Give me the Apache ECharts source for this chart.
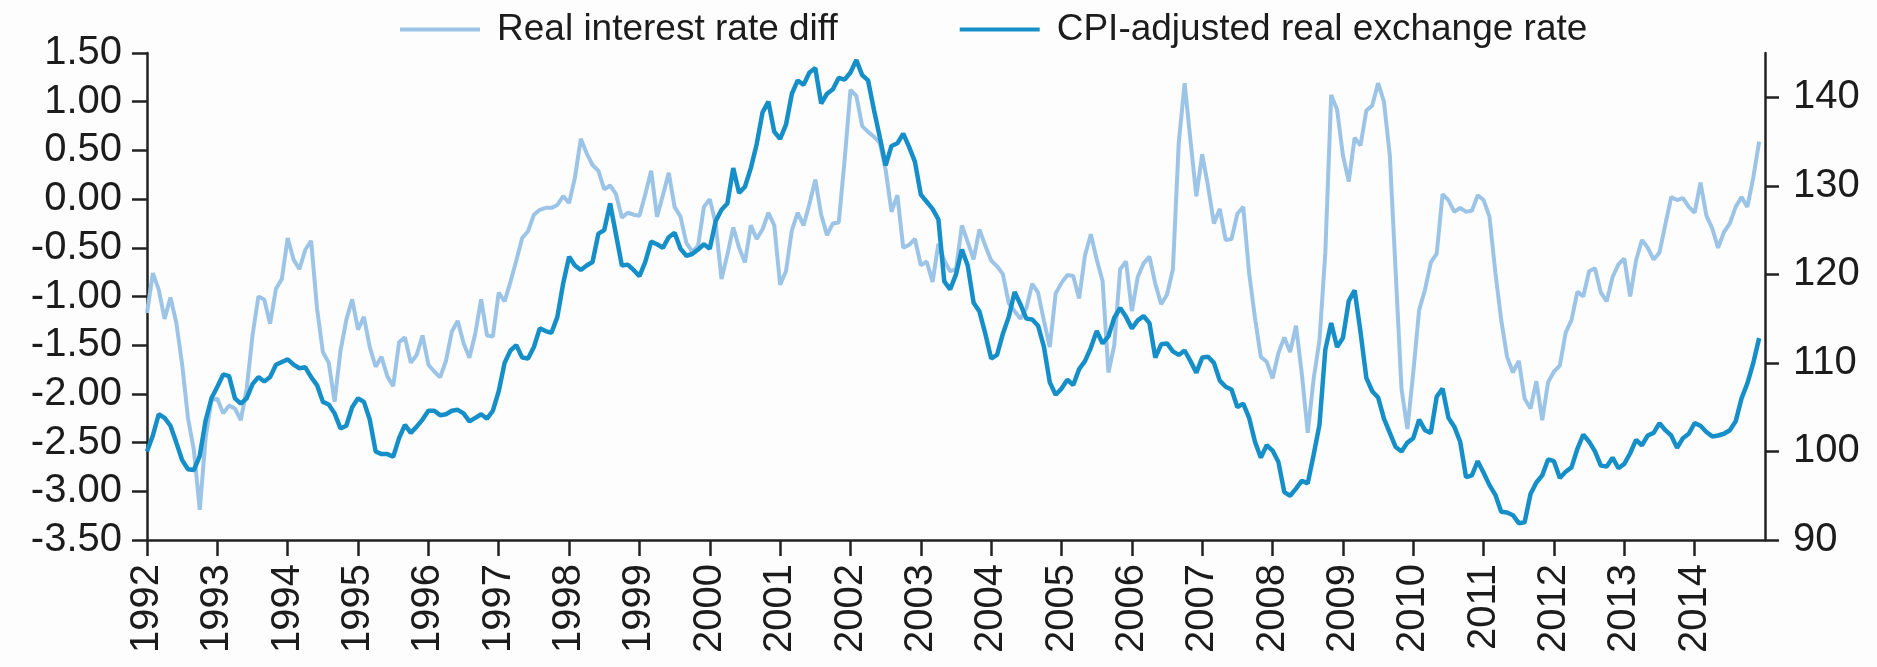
<!DOCTYPE html>
<html>
<head>
<meta charset="utf-8">
<script src="https://cdn.jsdelivr.net/npm/echarts@6/dist/echarts.min.js"></script>
<style>
    html, body { margin: 0; padding: 0; background: #fdfdfd; }
    #chart { width: 1877px; height: 667px; }
</style>
</head>
<body>
<div id="chart"></div>
<script>
// monthly observations, Jan 1992 - Dec 2014
const startYear = 1992

const rateDiff = [
    -1.17, -0.76, -0.93, -1.23, -1.01, -1.27, -1.70, -2.25, -2.58, -3.19, -2.45, -2.06, // 1992
    -2.05, -2.20, -2.12, -2.15, -2.27, -1.95, -1.40, -1.00, -1.03, -1.28, -0.92, -0.82, // 1993
    -0.40, -0.62, -0.72, -0.52, -0.43, -1.12, -1.57, -1.68, -2.08, -1.56, -1.24, -1.03, // 1994
    -1.34, -1.21, -1.52, -1.72, -1.62, -1.82, -1.92, -1.47, -1.42, -1.68, -1.60, -1.40, // 1995
    -1.70, -1.77, -1.83, -1.66, -1.36, -1.25, -1.48, -1.63, -1.38, -1.03, -1.40, -1.41, // 1996
    -0.96, -1.05, -0.85, -0.63, -0.40, -0.33, -0.16, -0.11, -0.09, -0.09, -0.06, 0.03,   // 1997
    -0.04, 0.22, 0.62, 0.47, 0.35, 0.29, 0.10, 0.14, 0.05, -0.19, -0.14, -0.16,          // 1998
    -0.17, 0.05, 0.29, -0.18, 0.04, 0.27, -0.08, -0.18, -0.45, -0.54, -0.48, -0.08,      // 1999
    0.00, -0.25, -0.82, -0.57, -0.29, -0.50, -0.65, -0.27, -0.41, -0.31, -0.14, -0.27,   // 2000
    -0.88, -0.74, -0.32, -0.14, -0.27, -0.05, 0.20, -0.16, -0.37, -0.25, -0.24, 0.40,    // 2001
    1.12, 1.06, 0.75, 0.69, 0.64, 0.58, 0.30, -0.13, 0.04, -0.50, -0.47, -0.41,          // 2002
    -0.68, -0.64, -0.85, -0.46, -0.63, -0.74, -0.72, -0.27, -0.44, -0.62, -0.31, -0.48,  // 2003
    -0.63, -0.69, -0.77, -1.07, -1.15, -1.23, -1.12, -0.87, -0.96, -1.25, -1.52, -0.97,  // 2004
    -0.86, -0.78, -0.79, -1.02, -0.58, -0.36, -0.62, -0.84, -1.78, -1.50, -0.72, -0.64,  // 2005
    -1.15, -0.80, -0.66, -0.59, -0.87, -1.08, -0.98, -0.72, 0.58, 1.19, 0.60, 0.03,      // 2006
    0.46, 0.13, -0.25, -0.10, -0.42, -0.41, -0.15, -0.08, -0.76, -1.22, -1.62, -1.67,    // 2007
    -1.84, -1.58, -1.42, -1.57, -1.30, -1.80, -2.40, -1.85, -1.45, -0.55, 1.07, 0.92,    // 2008
    0.45, 0.18, 0.63, 0.55, 0.91, 0.96, 1.19, 1.00, 0.45, -0.75, -1.95, -2.36,           // 2009
    -1.78, -1.14, -0.93, -0.65, -0.56, 0.05, -0.01, -0.13, -0.09, -0.13, -0.12, 0.04,    // 2010
    -0.01, -0.18, -0.75, -1.24, -1.62, -1.78, -1.66, -2.05, -2.15, -1.87, -2.27, -1.88,  // 2011
    -1.77, -1.71, -1.37, -1.24, -0.95, -1.00, -0.74, -0.71, -0.96, -1.05, -0.80, -0.67,  // 2012
    -0.61, -1.00, -0.63, -0.42, -0.50, -0.62, -0.55, -0.26, 0.02, -0.01, 0.01, -0.08,    // 2013
    -0.14, 0.17, -0.17, -0.30, -0.50, -0.34, -0.25, -0.08, 0.02, -0.08, 0.22, 0.59       // 2014
]

const realExchange = [
    100.0, 101.8, 104.2, 103.8, 102.9, 101.0, 99.0, 98.0, 97.9, 99.5, 103.5, 106.0,      // 1992
    107.3, 108.7, 108.5, 106.0, 105.4, 106.0, 107.6, 108.4, 107.9, 108.4, 109.8, 110.1,  // 1993
    110.4, 109.8, 109.4, 109.5, 108.4, 107.5, 105.6, 105.3, 104.3, 102.6, 102.9, 105.0,  // 1994
    106.0, 105.6, 103.6, 100.0, 99.7, 99.7, 99.4, 101.5, 103.0, 102.1, 102.8, 103.6,     // 1995
    104.6, 104.6, 104.1, 104.2, 104.6, 104.7, 104.3, 103.4, 103.8, 104.2, 103.7, 104.6,  // 1996
    106.8, 110.0, 111.4, 112.0, 110.6, 110.5, 111.8, 113.9, 113.6, 113.4, 115.2, 119.0,  // 1997
    122.0, 121.0, 120.5, 121.0, 121.4, 124.6, 125.0, 128.0, 124.5, 121.0, 121.1, 120.5,  // 1998
    119.8, 121.4, 123.7, 123.4, 123.0, 124.2, 124.7, 122.9, 122.1, 122.3, 122.8, 123.4,  // 1999
    122.9, 126.0, 127.3, 128.0, 132.0, 129.2, 129.9, 132.0, 134.7, 138.3, 139.5, 136.1,  // 2000
    135.3, 136.9, 140.4, 141.9, 141.4, 142.8, 143.3, 139.3, 140.4, 140.9, 142.2, 142.0,  // 2001
    142.8, 144.2, 142.5, 141.9, 138.6, 135.5, 132.3, 134.5, 134.8, 135.9, 134.4, 132.7,  // 2002
    129.0, 128.2, 127.4, 126.2, 119.2, 118.3, 120.0, 122.8, 121.0, 116.8, 115.8, 113.3,  // 2003
    110.5, 110.9, 113.3, 115.2, 118.0, 116.6, 115.0, 114.9, 114.2, 111.8, 107.8, 106.4,  // 2004
    107.1, 108.1, 107.5, 109.3, 110.2, 111.7, 113.6, 112.2, 113.0, 115.1, 116.2, 115.2,  // 2005
    113.9, 114.8, 115.3, 114.5, 110.6, 112.1, 112.2, 111.3, 110.9, 111.4, 110.2, 108.9,  // 2006
    110.6, 110.7, 110.0, 108.0, 107.3, 107.0, 105.0, 105.4, 103.8, 101.1, 99.3, 100.7,   // 2007
    100.1, 98.8, 95.4, 95.0, 95.8, 96.7, 96.4, 99.6, 103.0, 111.5, 114.5, 111.8,         // 2008
    112.8, 117.0, 118.2, 113.5, 108.3, 106.8, 106.1, 103.7, 102.1, 100.5, 100.0, 101.0,  // 2009
    101.5, 103.6, 102.4, 102.1, 106.2, 107.1, 103.8, 102.8, 101.1, 97.1, 97.3, 98.9,     // 2010
    97.6, 96.2, 95.1, 93.2, 93.1, 92.8, 91.9, 92.0, 95.2, 96.5, 97.3, 99.1,              // 2011
    98.9, 97.0, 97.7, 98.2, 100.3, 101.9, 101.1, 100.0, 98.4, 98.3, 99.3, 98.1,          // 2012
    98.6, 99.8, 101.3, 100.7, 101.8, 102.1, 103.2, 102.4, 101.8, 100.4, 101.5, 102.0,    // 2013
    103.2, 102.9, 102.2, 101.7, 101.8, 102.0, 102.4, 103.4, 106.0, 107.7, 110.0, 112.8   // 2014
]

const yearTicks = []
for (let y = 1992; y <= 2014; y++) yearTicks.push(y)
const rateTicks = [-3.5, -3, -2.5, -2, -1.5, -1, -0.5, 0, 0.5, 1, 1.5]
const rerTicks = [90, 100, 110, 120, 130, 140]

const toPoints = (values) => values.map((v, i) => [startYear + i / 12, v])

const axisColor = '#222'
const labelColor = '#1c1c1c'
const font = '"Liberation Sans", Arial, sans-serif'

const chart = echarts.init(document.getElementById('chart'), null, { renderer: 'canvas' })
chart.setOption({
    animation: false,
    backgroundColor: '#fdfdfd',
    textStyle: { fontFamily: font },
    legend: {
        top: 6,
        left: 395,
        icon: 'rect',
        itemWidth: 80,
        itemHeight: 4,
        itemGap: 122,
        textStyle: {
            fontFamily: font,
            fontSize: 37,
            color: labelColor,
            padding: [0, 0, 0, 12],
        },
        data: ['Real interest rate diff', 'CPI-adjusted real exchange rate'],
    },
    grid: {
        left: 147,
        right: 112,
        top: 53,
        bottom: 127,
    },
    xAxis: {
        type: 'value',
        min: 1992,
        max: 2015,
        interval: 1,
        splitLine: { show: false },
        axisLine: { onZero: false, lineStyle: { color: axisColor, width: 2.5 } },
        axisTick: {
            length: 16,
            customValues: yearTicks,
            lineStyle: { color: axisColor, width: 2.5 },
        },
        axisLabel: {
            customValues: yearTicks,
            rotate: 90,
            margin: 24,
            fontSize: 40,
            color: labelColor,
            fontFamily: font,
            formatter: (v) => String(v),
        },
    },
    yAxis: [{
        type: 'value',
        min: -3.5,
        max: 1.5,
        interval: 0.5,
        position: 'left',
        splitLine: { show: false },
        axisLine: { show: true, lineStyle: { color: axisColor, width: 2.5 } },
        axisTick: {
            show: true,
            length: 15,
            customValues: rateTicks,
            lineStyle: { color: axisColor, width: 2.5 },
        },
        axisLabel: {
            customValues: rateTicks,
            margin: 25,
            fontSize: 40,
            color: labelColor,
            fontFamily: font,
            formatter: (v) => v.toFixed(2),
        },
    }, {
        type: 'value',
        min: 90,
        max: 145,
        position: 'right',
        splitLine: { show: false },
        axisLine: { show: true, lineStyle: { color: axisColor, width: 2.5 } },
        axisTick: {
            show: true,
            length: 14,
            customValues: rerTicks,
            lineStyle: { color: axisColor, width: 2.5 },
        },
        axisLabel: {
            customValues: rerTicks,
            margin: 28,
            fontSize: 40,
            color: labelColor,
            fontFamily: font,
        },
    }],
    series: [{
        name: 'Real interest rate diff',
        type: 'line',
        yAxisIndex: 0,
        symbol: 'none',
        color: '#9cc4e6',
        lineStyle: { width: 4, color: '#9cc4e6' },
        data: toPoints(rateDiff),
    }, {
        name: 'CPI-adjusted real exchange rate',
        type: 'line',
        yAxisIndex: 1,
        symbol: 'none',
        color: '#168fc8',
        lineStyle: { width: 4.5, color: '#168fc8' },
        data: toPoints(realExchange),
    }],
})

window.addEventListener('resize', () => {
    chart.resize()
})
</script>
</body>
</html>
